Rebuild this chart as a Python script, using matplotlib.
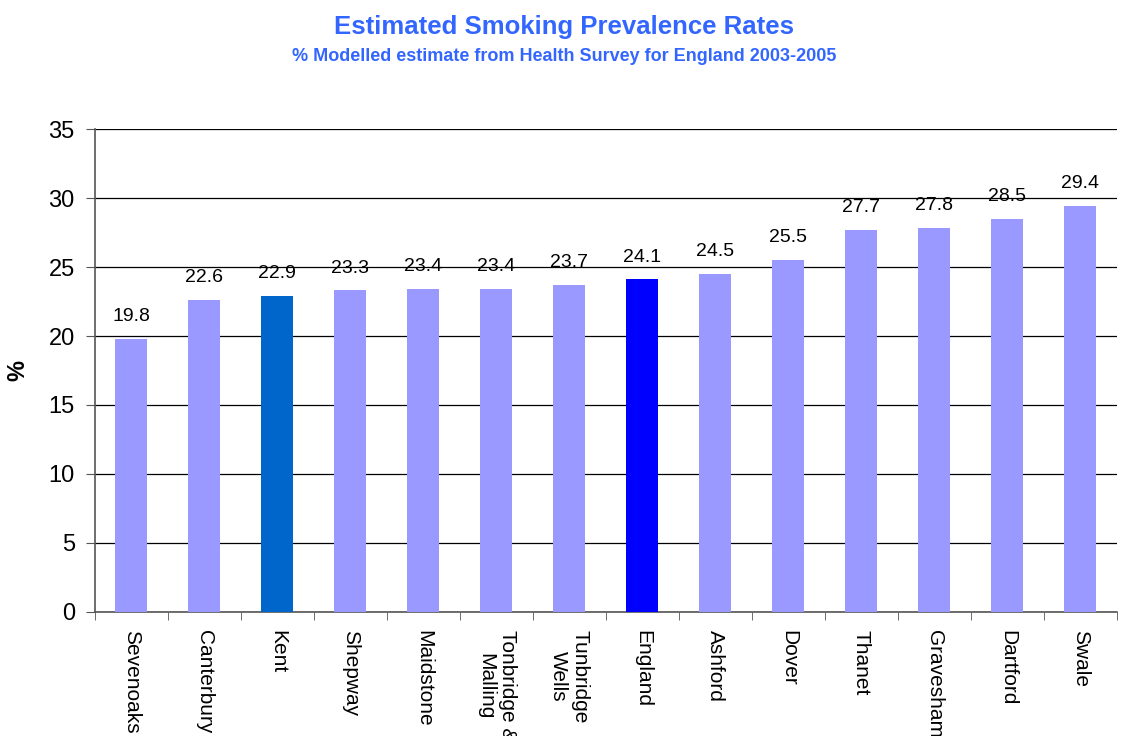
import numpy as np
import matplotlib.pyplot as plt

# districts, sorted by prevalence
areas = ["Sevenoaks", "Canterbury", "Kent", "Shepway", "Maidstone",
         "Tonbridge &\nMalling", "Tunbridge\nWells", "England", "Ashford",
         "Dover", "Thanet", "Gravesham", "Dartford", "Swale"]
rates = [19.8, 22.6, 22.9, 23.3, 23.4, 23.4, 23.7, 24.1, 24.5, 25.5,
         27.7, 27.8, 28.5, 29.4]
yticks = [0, 5, 10, 15, 20, 25, 30, 35]

plt.rcParams['font.family'] = ['Liberation Sans', 'DejaVu Sans']

colors = ["#9999FF"] * len(areas)
colors[areas.index("Kent")] = "#0066CC"
colors[areas.index("England")] = "#0000FF"

fig = plt.figure(figsize=(11.21, 7.36), dpi=100)
ax = fig.add_axes([0.0847, 0.1685, 0.9115, 0.6562])

x = np.arange(len(areas))
bars = ax.bar(x, rates, width=0.44, color=colors, zorder=3)

for b, v in zip(bars, rates):
    ax.annotate(f"{v:.1f}", (b.get_x() + b.get_width() / 2, v),
                xytext=(0, 10), textcoords="offset points",
                ha="center", va="bottom", fontsize=14)

ax.set_xlim(-0.5, len(areas) - 0.5)
ax.set_ylim(0, 35)
ax.set_yticks(yticks)
ax.yaxis.grid(True, color="black", linewidth=0.9, zorder=0)
ax.tick_params(axis="y", labelsize=17, length=6.5, color="#555555", pad=8)

# category labels centred, tick marks between categories
ax.set_xticks(x)
ax.set_xticklabels(areas, rotation=270, ha="center", va="top", fontsize=15)
ax.tick_params(axis="x", which="major", length=0, pad=13)
ax.set_xticks(np.arange(-0.5, len(areas), 1), minor=True)
ax.tick_params(axis="x", which="minor", length=6, color="#555555")

for s in ["top", "right"]:
    ax.spines[s].set_visible(False)
for s in ["left", "bottom"]:
    ax.spines[s].set_color("#555555")
    ax.spines[s].set_linewidth(1.2)

ax.set_ylabel("%", fontsize=17, fontweight="bold", labelpad=14)

fig.text(0.503, 0.963, "Estimated Smoking Prevalence Rates", ha="center",
         va="center", color="#3366FF", fontsize=18.5, fontweight="bold")
fig.text(0.503, 0.923, "% Modelled estimate from Health Survey for England 2003-2005",
         ha="center", va="center", color="#3366FF", fontsize=13,
         fontweight="bold")

plt.savefig("out.png", dpi=100)
